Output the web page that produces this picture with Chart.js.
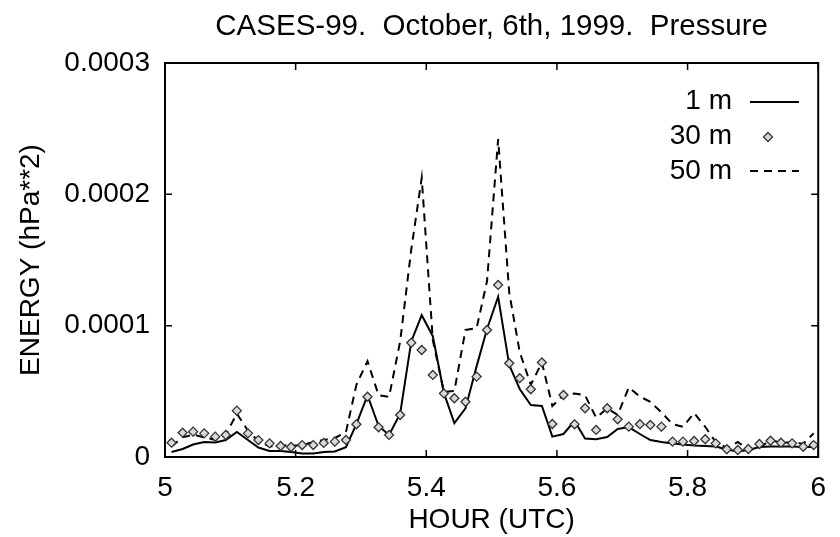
<!DOCTYPE html>
<html>
<head>
<meta charset="utf-8">
<script src="https://cdn.jsdelivr.net/npm/chart.js@4/dist/chart.umd.min.js"></script>
<style>
html,body{margin:0;padding:0;background:#fff;}
#wrap{width:840px;height:537px;position:relative;}
</style>
</head>
<body>
<div id="wrap"><canvas id="c" width="840" height="537"></canvas></div>
<script>
// ---- data ----
const chartTitle = "CASES-99.  October, 6th, 1999.  Pressure";
const xAxisTitle = "HOUR (UTC)";
const yAxisTitle = "ENERGY (hPa**2)";
const seriesNames = ["1 m", "30 m", "50 m"];

const hours = [5.010,5.027,5.043,5.060,5.077,5.093,5.110,5.127,5.143,5.160,
               5.177,5.193,5.210,5.227,5.243,5.260,5.277,5.293,5.310,5.327,
               5.343,5.360,5.377,5.393,5.410,5.427,5.443,5.460,5.477,5.493,
               5.510,5.527,5.543,5.560,5.577,5.593,5.610,5.627,5.643,5.660,
               5.677,5.693,5.710,5.727,5.743,5.760,5.777,5.793,5.810,5.827,
               5.843,5.860,5.877,5.893,5.910,5.927,5.943,5.960,5.977,5.993];

const energy1m = [3.8e-6,6.1e-6,9.5e-6,11.4e-6,11.0e-6,12.9e-6,19.0e-6,12.9e-6,7.2e-6,4.6e-6,
                  4.6e-6,3.8e-6,2.7e-6,2.7e-6,3.8e-6,4.2e-6,7.5e-6,25e-6,47e-6,23.6e-6,
                  16.8e-6,33e-6,88e-6,108e-6,92e-6,48.7e-6,25.8e-6,37e-6,69e-6,97.5e-6,
                  122e-6,70e-6,51.8e-6,39.6e-6,38.8e-6,15.5e-6,17.5e-6,27.4e-6,14.1e-6,13.5e-6,
                  15.2e-6,21.3e-6,22.8e-6,17.5e-6,12.9e-6,11.4e-6,10.3e-6,9.5e-6,8.8e-6,8.4e-6,
                  8.0e-6,5.7e-6,4.2e-6,5.3e-6,7.6e-6,8.0e-6,8.0e-6,8.0e-6,7.6e-6,7.6e-6];

const energy30m = [10.9e-6,18.5e-6,19.3e-6,18.0e-6,15.5e-6,16.8e-6,35.3e-6,18.0e-6,12.9e-6,10.4e-6,
                   8.4e-6,7.6e-6,9.1e-6,9.1e-6,10.7e-6,11.7e-6,13e-6,24.9e-6,45.9e-6,22.6e-6,
                   16.8e-6,32e-6,87e-6,81.5e-6,62.5e-6,48.4e-6,44.7e-6,42.1e-6,61.2e-6,96.7e-6,
                   131e-6,71.4e-6,60e-6,51.6e-6,72e-6,25.1e-6,47.2e-6,24.9e-6,37.1e-6,20.6e-6,
                   37.1e-6,28.7e-6,23.1e-6,25e-6,24.4e-6,23.1e-6,11.7e-6,11.7e-6,12.2e-6,13.5e-6,
                   10.4e-6,5.9e-6,5.3e-6,6.1e-6,9.9e-6,12.4e-6,10.9e-6,10.4e-6,7.8e-6,9.1e-6];

const energy50m = [8e-6,15e-6,17e-6,15e-6,13e-6,17e-6,33e-6,20e-6,12e-6,8e-6,
                   9e-6,8.4e-6,9e-6,11.4e-6,13e-6,14.5e-6,19e-6,55e-6,73e-6,47e-6,
                   45.7e-6,88e-6,158e-6,212.5e-6,89e-6,49.5e-6,50.3e-6,96.7e-6,98e-6,134e-6,
                   242e-6,125e-6,80e-6,55e-6,72e-6,38.8e-6,47.2e-6,48.4e-6,47e-6,30e-6,
                   37e-6,32e-6,53e-6,46e-6,42e-6,34e-6,25e-6,23e-6,33.5e-6,23e-6,
                   11.4e-6,6.9e-6,11.4e-6,5.3e-6,6.9e-6,13e-6,10.7e-6,11.4e-6,10e-6,18e-6];

const xTicks = [5, 5.2, 5.4, 5.6, 5.8, 6];
const xTickLabels = ["5", "5.2", "5.4", "5.6", "5.8", "6"];
const yTicks = [0, 0.0001, 0.0002, 0.0003];
const yTickLabels = ["0", "0.0001", "0.0002", "0.0003"];

// ---- chart ----
const FONT = '"Liberation Sans", Arial, Helvetica, sans-serif';
const FS = 28;
const INK = '#000';

function pts(ys){ return hours.map((h,i)=>({x:h, y:ys[i]})); }

const framePlugin = {
  id: 'frame',
  afterDatasetsDraw(chart){
    const {ctx, chartArea:a, scales:{x, y}} = chart;
    ctx.save();
    ctx.strokeStyle = INK;
    ctx.lineWidth = 2;
    ctx.strokeRect(a.left, a.top, a.right - a.left, a.bottom - a.top);
    ctx.lineWidth = 1.5;
    const tl = 7;
    xTicks.forEach(v=>{
      const px = x.getPixelForValue(v);
      ctx.beginPath();
      ctx.moveTo(px, a.bottom); ctx.lineTo(px, a.bottom - tl);
      ctx.moveTo(px, a.top); ctx.lineTo(px, a.top + tl);
      ctx.stroke();
    });
    yTicks.forEach(v=>{
      const py = y.getPixelForValue(v);
      ctx.beginPath();
      ctx.moveTo(a.left, py); ctx.lineTo(a.left + tl, py);
      ctx.moveTo(a.right, py); ctx.lineTo(a.right - tl, py);
      ctx.stroke();
    });
    // title
    ctx.fillStyle = INK;
    ctx.font = '29.5px ' + FONT;
    ctx.textAlign = 'center';
    ctx.textBaseline = 'middle';
    ctx.fillText(chartTitle, (a.left + a.right)/2, 27);
    // legend
    ctx.font = FS + 'px ' + FONT;
    const rows = [101, 136, 171];
    ctx.textAlign = 'right';
    const tx = 732, l0 = 750, l1 = 799;
    rows.forEach((ry, i)=>{
      ctx.fillStyle = INK;
      ctx.fillText(seriesNames[i], tx, ry);
    });
    ctx.lineWidth = 2;
    ctx.strokeStyle = INK;
    ctx.setLineDash([]);
    ctx.beginPath(); ctx.moveTo(l0, rows[0]+1); ctx.lineTo(l1, rows[0]+1); ctx.stroke();
    ctx.setLineDash([8,6]);
    ctx.beginPath(); ctx.moveTo(l0, rows[2]); ctx.lineTo(l1, rows[2]); ctx.stroke();
    ctx.setLineDash([]);
    // diamond marker sample
    const mx = 768, my = rows[1]+1, r = 4.5;
    ctx.beginPath();
    ctx.moveTo(mx, my - r); ctx.lineTo(mx + r, my); ctx.lineTo(mx, my + r); ctx.lineTo(mx - r, my); ctx.closePath();
    ctx.fillStyle = '#d8d8d8'; ctx.fill();
    ctx.lineWidth = 1.3; ctx.strokeStyle = '#333'; ctx.stroke();
    ctx.restore();
  }
};

new Chart(document.getElementById('c'), {
  type: 'line',
  data: {
    datasets: [
      { label: seriesNames[0], data: pts(energy1m), borderColor: INK, borderWidth: 2,
        pointRadius: 0, fill: false, tension: 0, order: 2 },
      { label: seriesNames[1], data: pts(energy30m), showLine: false,
        pointStyle: 'rectRot', pointRadius: 4.5, pointBorderColor: '#333', pointBackgroundColor: '#d8d8d8',
        pointBorderWidth: 1.3, order: 0 },
      { label: seriesNames[2], data: pts(energy50m), borderColor: INK, borderWidth: 2,
        borderDash: [8,6], pointRadius: 0, fill: false, tension: 0, order: 1 }
    ]
  },
  options: {
    responsive: false,
    animation: false,
    layout: { padding: { top: 63, right: 18, bottom: 0, left: 0 } },
    plugins: { legend: { display: false }, title: { display: false }, tooltip: { enabled: false } },
    scales: {
      x: {
        type: 'linear', min: 5, max: 6,
        afterBuildTicks: s => { s.ticks = xTicks.map(v => ({ value: v })); },
        afterFit: s => { s.height = 80; },
        grid: { display: false, drawTicks: false },
        border: { display: false },
        ticks: { padding: 14, color: INK, font: { family: FONT, size: FS },
                 callback: (v) => { const i = xTicks.findIndex(t => Math.abs(t - v) < 1e-9); return i >= 0 ? xTickLabels[i] : ''; } },
        title: { display: true, text: xAxisTitle, color: INK, font: { family: FONT, size: FS, lineHeight: 1.2 },
                 padding: { top: 0, bottom: 0 } }
      },
      y: {
        type: 'linear', min: 0, max: 0.0003,
        afterBuildTicks: s => { s.ticks = yTicks.map(v => ({ value: v })); },
        afterFit: s => { s.width = 165; },
        grid: { display: false, drawTicks: false },
        border: { display: false },
        ticks: { padding: 15, color: INK, font: { family: FONT, size: FS },
                 callback: (v) => { const i = yTicks.findIndex(t => Math.abs(t - v) < 1e-12); return i >= 0 ? yTickLabels[i] : ''; } },
        title: { display: true, text: yAxisTitle, color: INK, font: { family: FONT, size: FS, lineHeight: 1.2 },
                 padding: { top: 14, bottom: 0 } }
      }
    }
  },
  plugins: [framePlugin]
});
</script>
</body>
</html>
